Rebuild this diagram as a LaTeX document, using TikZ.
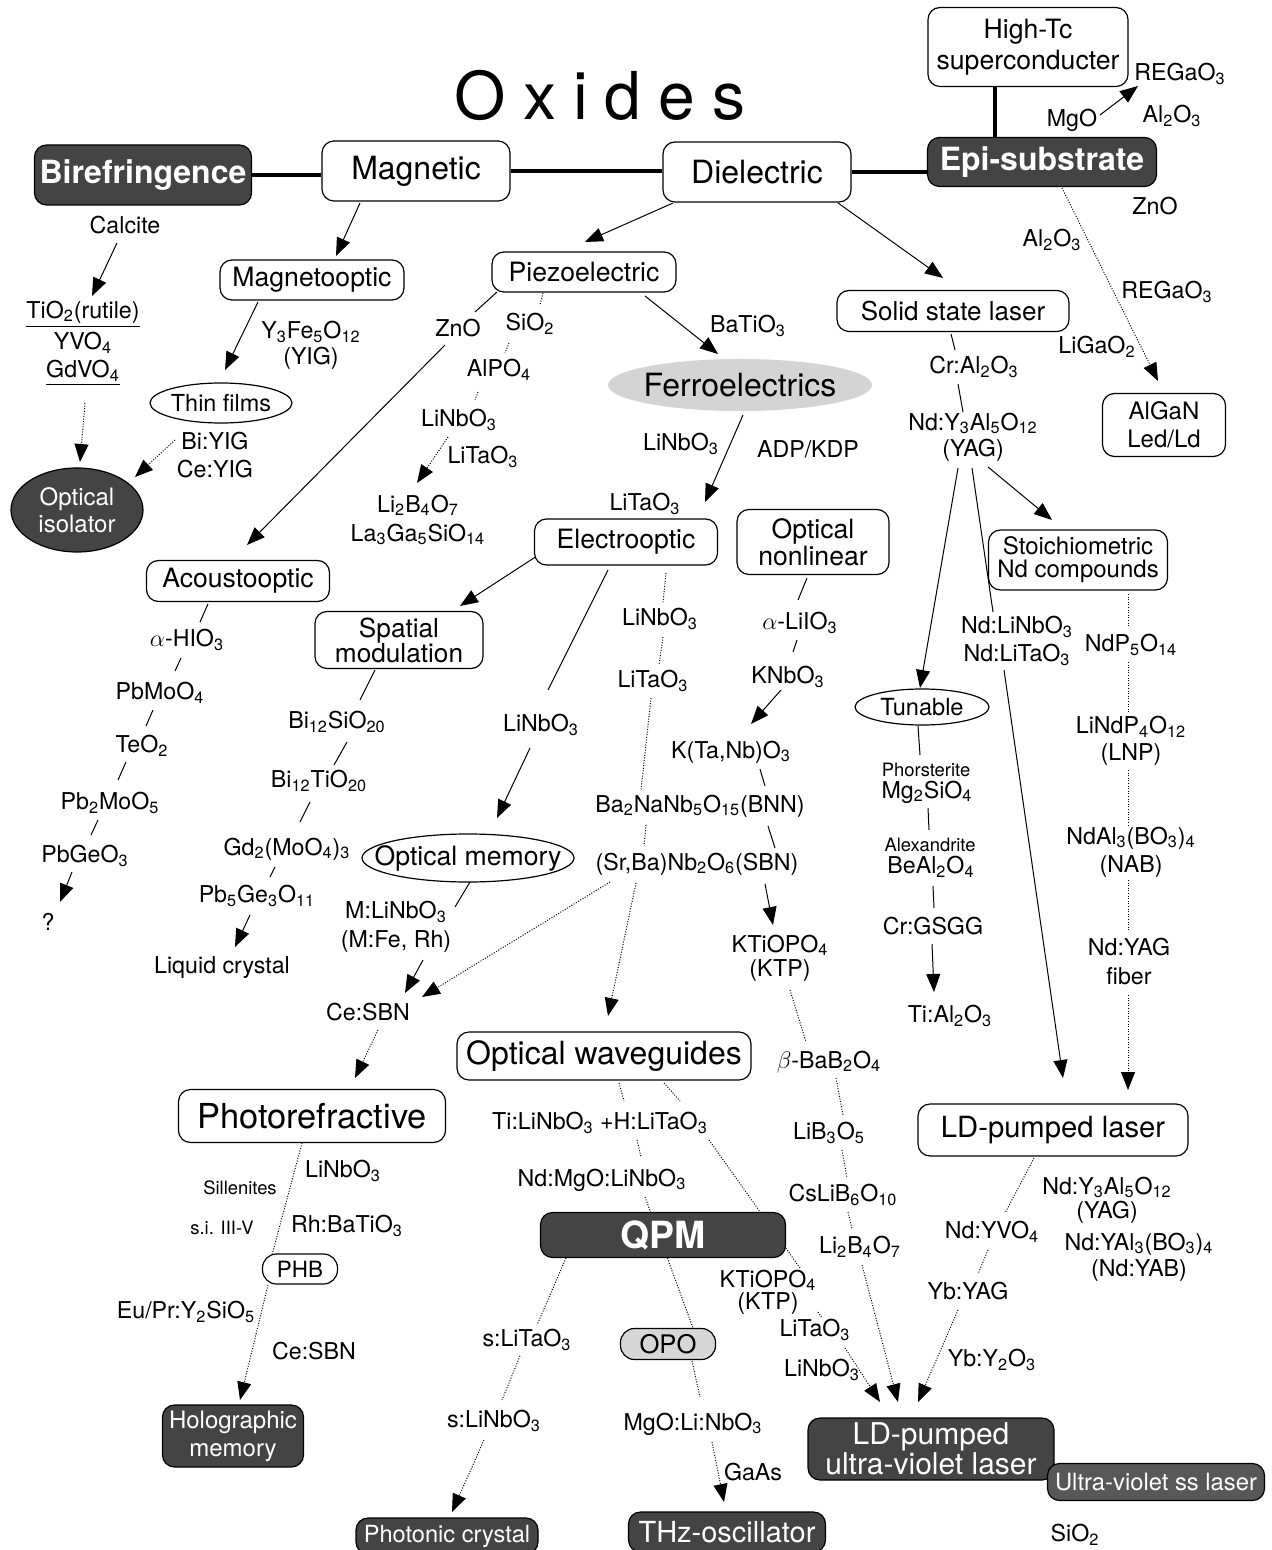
\documentclass[tikz,border=0pt]{standalone}
\usepackage{fontspec}
\setmainfont{TeX Gyre Heros}
\usetikzlibrary{arrows.meta,shapes.geometric,calc}
\pgfdeclarelayer{background}
\pgfsetlayers{background,main}
\newcommand{\dn}[1]{\textsubscript{#1}}
\definecolor{darkfill}{RGB}{68,68,68}
\definecolor{midfill}{RGB}{88,88,88}
\definecolor{ferrofill}{RGB}{212,212,212}
\definecolor{opofill}{RGB}{215,215,215}
\begin{document}
\begin{tikzpicture}[x=0.5pt,y=-0.5pt,
 lab/.style={inner sep=1pt,align=center,font=\fontsize{11.6}{14}\selectfont},
 sml/.style={inner sep=1pt,align=center,font=\fontsize{9.2}{11}\selectfont},
 wbox/.style={draw,line width=0.6pt,rounded corners=6pt,fill=white,align=center,inner sep=0pt},
 dbox/.style={draw=black,line width=0.6pt,rounded corners=6pt,fill=darkfill,text=white,align=center,inner sep=0pt},
 oell/.style={draw,ellipse,line width=0.6pt,fill=white,inner sep=0pt,align=center},
 con/.style={line width=0.5pt},
 dots/.style={line width=0.5pt,dash pattern=on 0.5pt off 0.8pt},
 thickline/.style={line width=1.6pt},
 arr/.style={-{Triangle[length=9pt,width=7pt]}},
]
\useasboundingbox (0,0) rectangle (1272,1550);

% ---------- title ----------
\node[inner sep=0pt] (title) at (600,95) {\fontsize{33}{36}\selectfont O\hspace{8.5pt}x\hspace{8.5pt}i\hspace{8.5pt}d\hspace{8.5pt}e\hspace{8.5pt}s};

% ---------- top row ----------
\node[dbox,minimum width=108.5pt,minimum height=30pt,font=\bfseries\fontsize{16}{18}\selectfont] (bire) at (143,175) {Birefringence};
\node[wbox,minimum width=94pt,minimum height=30pt,font=\fontsize{16}{18}\selectfont] (magn) at (416,171) {Magnetic};
\node[wbox,minimum width=94pt,minimum height=30pt,font=\fontsize{16}{18}\selectfont] (diel) at (757,172) {Dielectric};
\node[dbox,minimum width=114.5pt,minimum height=24.5pt,font=\bfseries\fontsize{16}{18}\selectfont] (epi) at (1042,162) {Epi-substrate};
\node[wbox,minimum width=100pt,minimum height=39.5pt,font=\fontsize{13.3}{15.5}\selectfont] (hitc) at (1028,47) {High-Tc\\superconducter};

% ---------- epi-substrate labels ----------
\node[lab] (rega1) at (1180,74) {REGaO\dn{3}};
\node[lab] (alo1) at (1172,116) {Al\dn{2}O\dn{3}};
\node[lab] (mgo) at (1072,120) {MgO};
\node[lab] (zno2) at (1155,206) {ZnO};
\node[lab] (alo2) at (1052,240) {Al\dn{2}O\dn{3}};
\node[lab] (rega2) at (1167,292) {REGaO\dn{3}};
\node[lab] (ligao) at (1097,347) {LiGaO\dn{2}};
\node[wbox,minimum width=61.5pt,minimum height=31.5pt,font=\fontsize{12}{14}\selectfont] (algan) at (1164,425) {AlGaN\\Led/Ld};

% ---------- birefringence branch ----------
\node[lab] (calc) at (125,225) {Calcite};
\node[lab] (tio) at (83,314) {\underline{TiO\dn{2}(rutile)}};
\node[lab] (yvo) at (83,343) {YVO\dn{4}};
\node[lab] (gdvo) at (83,373) {\underline{GdVO\dn{4}}};
\node[dbox,ellipse,minimum width=66pt,minimum height=42pt,font=\fontsize{12}{13.5}\selectfont] (isol) at (77,510) {Optical\\isolator};

% ---------- magnetic branch ----------
\node[wbox,minimum width=92pt,minimum height=20pt,font=\fontsize{13.3}{15}\selectfont] (magop) at (312,280) {Magnetooptic};
\node[lab] (yig1) at (311,332) {Y\dn{3}Fe\dn{5}O\dn{12}};
\node[lab] (yig2) at (311,358) {(YIG)};
\node[oell,minimum width=71pt,minimum height=20pt,inner xsep=-1pt,font=\fontsize{11.7}{13}\selectfont] (thin) at (221,403) {Thin films};
\node[lab] (biyig) at (215,455) {Bi:YIG\\Ce:YIG};

% ---------- piezoelectric ----------
\node[wbox,minimum width=92pt,minimum height=20pt,font=\fontsize{13.3}{15}\selectfont] (piezo) at (584,272) {Piezoelectric};
\node[lab] (zno) at (458,328) {ZnO};
\node[lab] (sio) at (530,324) {SiO\dn{2}};
\node[lab] (alpo) at (499,370) {AlPO\dn{4}};
\node[lab] (pzln) at (459,420) {LiNbO\dn{3}};
\node[lab] (pzlt) at (483,457) {LiTaO\dn{3}};
\node[lab,font=\fontsize{11.6}{14.5}\selectfont] (lbo) at (418,520) {Li\dn{2}B\dn{4}O\dn{7}\\La\dn{3}Ga\dn{5}SiO\dn{14}};
\node[lab] (bato) at (748,326) {BaTiO\dn{3}};

% ---------- ferroelectrics ----------
\node[ellipse,fill=ferrofill,minimum width=132pt,minimum height=26pt,inner xsep=-2pt,inner ysep=0pt,font=\fontsize{16}{18}\selectfont] (ferro) at (740,385) {Ferroelectrics};
\node[lab] (feln) at (681,444) {LiNbO\dn{3}};
\node[lab] (adp) at (808,449) {ADP/KDP};
\node[lab] (felt) at (645,504) {LiTaO\dn{3}};
\node[wbox,minimum width=91.5pt,minimum height=23pt,font=\fontsize{13.3}{15}\selectfont] (electro) at (626,542) {Electrooptic};
\node[wbox,minimum width=76pt,minimum height=32.5pt,font=\fontsize{13.3}{12.5}\selectfont] (nonlin) at (813,542) {Optical\\nonlinear};

% ---------- acoustooptic ----------
\node[wbox,minimum width=91.5pt,minimum height=20.5pt,font=\fontsize{13.3}{15}\selectfont] (acous) at (238,581) {Acoustooptic};
\node[lab] (ahio) at (187,640) {$\alpha$-HIO\dn{3}};
\node[lab] (pbmo) at (160,693) {PbMoO\dn{4}};
\node[lab] (teo) at (142,746) {TeO\dn{2}};
\node[lab] (pbmoo) at (110,803) {Pb\dn{2}MoO\dn{5}};
\node[lab] (pbge) at (85,856) {PbGeO\dn{3}};
\node[lab] (qm) at (48,922) {?};

% ---------- spatial modulation ----------
\node[wbox,minimum width=84pt,minimum height=28.5pt,font=\fontsize{13.1}{12.5}\selectfont] (spatial) at (399,640) {Spatial\\modulation};
\node[lab] (bisio) at (337,722) {Bi\dn{12}SiO\dn{20}};
\node[lab] (biti) at (319,781) {Bi\dn{12}TiO\dn{20}};
\node[lab] (gd) at (287,849) {Gd\dn{2}(MoO\dn{4})\dn{3}};
\node[lab] (pbge5) at (257,896) {Pb\dn{5}Ge\dn{3}O\dn{11}};
\node[lab] (lc) at (222,968) {Liquid crystal};

% ---------- electrooptic branch ----------
\node[lab] (eoln) at (541,725) {LiNbO\dn{3}};
\node[oell,minimum width=106pt,minimum height=24pt,inner xsep=-9.5pt,font=\fontsize{13.3}{15}\selectfont] (optmem) at (468,858) {Optical memory};
\node[lab,font=\fontsize{11.6}{14.5}\selectfont] (mln) at (396,927) {M:LiNbO\dn{3}\\(M:Fe, Rh)};
\node[lab] (cesbn) at (368,1012) {Ce:SBN};
\node[lab] (eoln2) at (660,619) {LiNbO\dn{3}};
\node[lab] (eolt) at (653,681) {LiTaO\dn{3}};
\node[lab] (bnn) at (700,806) {Ba\dn{2}NaNb\dn{5}O\dn{15}(BNN)};
\node[lab] (sbn) at (697,864) {(Sr,Ba)Nb\dn{2}O\dn{6}(SBN)};

% ---------- optical nonlinear ----------
\node[lab] (liio) at (800,623) {$\alpha$-LiIO\dn{3}};
\node[lab] (knbo) at (788,677) {KNbO\dn{3}};
\node[lab] (ktano) at (731,752) {K(Ta,Nb)O\dn{3}};
\node[lab,font=\fontsize{11.6}{12}\selectfont] (ktp) at (780,958) {KTiOPO\dn{4}\\(KTP)};
\node[lab] (bbo) at (829,1062) {$\beta$-BaB\dn{2}O\dn{4}};
\node[lab] (lib) at (829,1133) {LiB\dn{3}O\dn{5}};
\node[lab] (cslib) at (843,1195) {CsLiB\dn{6}O\dn{10}};
\node[lab] (libo) at (860,1247) {Li\dn{2}B\dn{4}O\dn{7}};

% ---------- optical waveguides / QPM ----------
\node[wbox,minimum width=147pt,minimum height=24pt,font=\fontsize{16}{18}\selectfont] (wave) at (604,1056) {Optical waveguides};
\node[lab] (tih) at (600,1123) {Ti:LiNbO\dn{3} +H:LiTaO\dn{3}};
\node[lab] (ndmgo) at (602,1180) {Nd:MgO:LiNbO\dn{3}};
\node[dbox,minimum width=122.5pt,minimum height=22.5pt,font=\bfseries\fontsize{18.7}{20}\selectfont] (qpm) at (663,1235) {QPM};
\node[lab,font=\fontsize{11.6}{11}\selectfont] (ktpb) at (768,1292) {KTiOPO\dn{4}\\(KTP)};
\node[lab] (ltc) at (815,1330) {LiTaO\dn{3}};
\node[lab] (lnc) at (822,1370) {LiNbO\dn{3}};
\node[wbox,fill=opofill,minimum width=47.5pt,minimum height=15.5pt,rounded corners=7pt,font=\fontsize{12.8}{14}\selectfont] (opo) at (668,1344) {OPO};
\node[lab] (mgoli) at (693,1424) {MgO:Li:NbO\dn{3}};
\node[lab] (gaas) at (753,1472) {GaAs};
\node[dbox,minimum width=98.5pt,minimum height=20pt,font=\fontsize{14.5}{16}\selectfont] (thz) at (727,1532) {THz-oscillator};
\node[lab] (slt) at (527,1340) {s:LiTaO\dn{3}};
\node[lab] (sln) at (494,1421) {s:LiNbO\dn{3}};
\node[dbox,minimum width=91pt,minimum height=18pt,font=\fontsize{11.8}{13}\selectfont] (phot) at (447,1536) {Photonic crystal};

% ---------- photorefractive ----------
\node[wbox,minimum width=133.5pt,minimum height=26.5pt,font=\fontsize{17.2}{19}\selectfont] (photoref) at (312,1116) {Photorefractive};
\node[lab] (prln) at (343,1171) {LiNbO\dn{3}};
\node[sml] (sill) at (240,1188) {Sillenites};
\node[sml] (si35) at (222,1228) {s.i. III-V};
\node[lab] (rhbt) at (347,1226) {Rh:BaTiO\dn{3}};
\node[wbox,minimum width=37.5pt,minimum height=15pt,rounded corners=7pt,font=\fontsize{11.2}{13}\selectfont] (phb) at (300,1269) {PHB};
\node[lab] (eupr) at (186,1312) {Eu/Pr:Y\dn{2}SiO\dn{5}};
\node[lab] (prce) at (314,1351) {Ce:SBN};
\node[dbox,minimum width=70.5pt,minimum height=31pt,font=\fontsize{12}{14}\selectfont] (holo) at (233,1436) {Holographic\\memory};

% ---------- solid state laser ----------
\node[wbox,minimum width=116pt,minimum height=20.5pt,font=\fontsize{13}{15}\selectfont] (ssl) at (953,311) {Solid state laser};
\node[lab] (cral) at (974,367) {Cr:Al\dn{2}O\dn{3}};
\node[lab,font=\fontsize{11.6}{13}\selectfont] (yag) at (973,437) {Nd:Y\dn{3}Al\dn{5}O\dn{12}\\(YAG)};
\node[oell,minimum width=67pt,minimum height=18pt,font=\fontsize{11.8}{13}\selectfont] (tunable) at (922,707) {Tunable};
\node[lab,font=\fontsize{11.6}{14}\selectfont] (ndln) at (1017,641) {Nd:LiNbO\dn{3}\\Nd:LiTaO\dn{3}};
\node[wbox,minimum width=89.5pt,minimum height=30pt,font=\fontsize{12}{11.5}\selectfont] (stoich) at (1078,560) {Stoichiometric\\Nd compounds};
\node[lab] (ndp) at (1131,645) {NdP\dn{5}O\dn{14}};
\node[lab,font=\fontsize{11.6}{13.5}\selectfont] (lnp) at (1131,741) {LiNdP\dn{4}O\dn{12}\\(LNP)};
\node[lab,font=\fontsize{11.6}{14}\selectfont] (nab) at (1131,852) {NdAl\dn{3}(BO\dn{3})\dn{4}\\(NAB)};
\node[lab,font=\fontsize{11.6}{14.5}\selectfont] (fiber) at (1129,962) {Nd:YAG\\fiber};
\node[sml] (phor) at (926,770) {Phorsterite};
\node[lab] (mgsio) at (927,792) {Mg\dn{2}SiO\dn{4}};
\node[sml] (alex) at (930,845) {Alexandrite};
\node[lab] (beal) at (931,867) {BeAl\dn{2}O\dn{4}};
\node[lab] (crgsgg) at (933,926) {Cr:GSGG};
\node[lab] (tial) at (950,1016) {Ti:Al\dn{2}O\dn{3}};

% ---------- LD-pumped ----------
\node[wbox,minimum width=135pt,minimum height=26pt,font=\fontsize{14.6}{16}\selectfont] (ldp) at (1053,1130) {LD-pumped laser};
\node[lab] (ndyvo) at (992,1232) {Nd:YVO\dn{4}};
\node[lab] (ybyag) at (968,1291) {Yb:YAG};
\node[lab] (ybyo) at (992,1360) {Yb:Y\dn{2}O\dn{3}};
\node[lab,font=\fontsize{11.6}{12}\selectfont] (ndyag2) at (1107,1200) {Nd:Y\dn{3}Al\dn{5}O\dn{12}\\(YAG)};
\node[lab,font=\fontsize{11.6}{13}\selectfont] (ndyab) at (1139,1257) {Nd:YAl\dn{3}(BO\dn{3})\dn{4}\\(Nd:YAB)};
\node[dbox,minimum width=123pt,minimum height=31pt,font=\fontsize{15}{14}\selectfont] (lduv) at (931,1449) {LD-pumped\\ultra-violet laser};
\node[dbox,fill=midfill,minimum width=108.5pt,minimum height=18.5pt,font=\fontsize{11.9}{13}\selectfont] (uvss) at (1156,1482) {Ultra-violet ss laser};
\node[lab] (sio2b) at (1075,1535) {SiO\dn{2}};

% ================= connectors =================
\begin{pgfonlayer}{background}
\fill[white] (0,0) rectangle (1272,1550);
\draw[thickline] (bire.east) -- (bire.east -| magn.west);
\draw[thickline] (magn.east) -- (magn.east -| diel.west);
\draw[thickline] (diel.east) -- (diel.east -| epi.west);
\draw[thickline] ($(hitc.south)+(-33,0)$) -- ($(epi.north)+(-47,0)$);

\draw[con,arr] ($(mgo)+(28,-5)$) -- ($(rega1)+(-42,12)$);
\draw[con,arr] ($(diel)+(-84,31)$) -- ($(piezo)+(1,-30)$);
\draw[con,arr] ($(diel)+(81,31)$) -- ($(ssl)+(-10,-33)$);
\draw[con,arr] ($(magn)+(-56,32)$) -- ($(magop)+(24,-24)$);
\draw[con,arr] ($(magop)+(-54,22)$) -- ($(thin)+(4,-33)$);
\draw[con,arr] ($(calc)+(-8,18)$) -- ($(tio)+(9,-18)$);
\draw[dots,arr] ($(gdvo)+(2,30)$) -- ($(isol)+(3,-48)$);
\draw[dots,arr] ($(biyig)+(-40,-15)$) -- ($(isol)+(58,-33)$);
\draw[dots,arr] ($(epi)+(20,26)$) -- ($(algan)+(-6,-44)$);

\draw[con] ($(piezo)+(-87,20)$) -- ($(zno)+(17,-16)$);
\draw[con,arr] ($(zno)+(-13,17)$) -- ($(acous)+(9,-36)$);
\draw[dots] ($(piezo)+(-41,21)$) -- ($(sio)+(10,-19)$);
\draw[dots] ($(sio)+(-21,19)$) -- ($(alpo)+(6,-17)$);
\draw[dots] ($(alpo)+(-21,22)$) -- ($(pzln)+(16,-20)$);
\draw[dots,arr] ($(pzln)+(-11,17)$) -- ($(lbo)+(-1,-37)$);
\draw[con,arr] ($(piezo)+(61,24)$) -- ($(ferro)+(-22,-31)$);
\draw[con,arr] ($(ferro)+(3,30)$) -- ($(electro)+(79,-40)$);

\draw[con,arr] ($(electro)+(-89,14)$) -- ($(spatial)+(61,-34)$);
\draw[con] ($(electro)+(-18,28)$) -- ($(eoln)+(7,-35)$);
\draw[con,arr] ($(eoln)+(-11,23)$) -- ($(optmem)+(29,-40)$);
\draw[dots] ($(electro)+(40,31)$) -- ($(eoln2)+(3,-17)$);
\draw[dots] ($(eoln2)+(3,18)$) -- ($(eolt)+(6,-16)$);
\draw[dots] ($(eolt)+(-2,17)$) -- ($(bnn)+(-59,-16)$);
\draw[dots] ($(bnn)+(-54,19)$) -- ($(sbn)+(-53,-18)$);
\draw[dots,arr] ($(sbn)+(-87,18)$) -- ($(cesbn)+(54,-15)$);
\draw[dots,arr] ($(sbn)+(-61,19)$) -- ($(wave)+(4,-40)$);

\draw[con] ($(nonlin)+(-6,36)$) -- ($(liio)+(-2,-23)$);
\draw[con] ($(liio)+(-3,17)$) -- ($(knbo)+(5,-25)$);
\draw[con,arr] ($(knbo)+(-7,13)$) -- ($(ktano)+(20,-28)$);
\draw[con] ($(ktano)+(29,17)$) -- ($(bnn)+(65,-20)$);
\draw[con] ($(bnn)+(68,20)$) -- ($(sbn)+(78,-16)$);
\draw[con,arr] ($(sbn)+(68,20)$) -- ($(ktp)+(-7,-33)$);
\draw[dots] ($(ktp)+(10,32)$) -- ($(bbo)+(-23,-20)$);
\draw[dots] ($(bbo)+(7,16)$) -- ($(lib)+(14,-18)$);
\draw[dots] ($(lib)+(13,17)$) -- ($(cslib)+(4,-17)$);
\draw[dots] ($(cslib)+(5,17)$) -- ($(libo)+(-8,-18)$);
\draw[dots,arr] ($(libo)+(2,18)$) -- ($(lduv)+(-33,-47)$);

\draw[dots] ($(wave)+(15,27)$) -- ($(tih)+(24,-22)$);
\draw[dots] ($(wave)+(60,27)$) -- ($(tih)+(80,-22)$);
\draw[dots] ($(tih)+(37,17)$) -- ($(ndmgo)+(39,-23)$);
\draw[dots] ($(tih)+(109,17)$) -- ($(ktpb)+(32,-24)$);
\draw[dots] ($(ndmgo)+(43,17)$) -- ($(opo)+(25,-16)$);
\draw[dots] ($(opo)+(24,17)$) -- ($(mgoli)+(7,-27)$);
\draw[dots,arr] ($(mgoli)+(19,18)$) -- ($(thz)+(-3,-30)$);
\draw[dots] ($(qpm)+(-97,23)$) -- ($(slt)+(10,-15)$);
\draw[dots] ($(slt)+(-7,16)$) -- ($(sln)+(8,-21)$);
\draw[dots,arr] ($(sln)+(-10,19)$) -- ($(phot)+(5,-24)$);
\draw[dots] ($(ktpb)+(50,20)$) -- ($(ltc)+(7,-12)$);
\draw[dots,arr] ($(ltc)+(30,18)$) -- ($(lduv)+(-51,-47)$);

\draw[dots] ($(ldp)+(-19,28)$) -- ($(ndyvo)+(13,-19)$);
\draw[dots] ($(ndyvo)+(-4,18)$) -- ($(ybyag)+(10,-17)$);
\draw[dots,arr] ($(ybyag)+(-10,19)$) -- ($(lduv)+(-13,-47)$);

\draw[con] ($(ssl)+(-2,23)$) -- ($(cral)+(-19,-17)$);
\draw[con] ($(cral)+(-16,17)$) -- ($(yag)+(-10,-25)$);
\draw[con,arr] ($(yag)+(-15,31)$) -- ($(tunable)+(-2,-19)$);
\draw[con] ($(yag)+(-1,31)$) -- ($(ndln)+(-24,-29)$);
\draw[con,arr] ($(ndln)+(-13,29)$) -- ($(ldp)+(10,-52)$);
\draw[con,arr] ($(yag)+(15,30)$) -- ($(stoich)+(-26,-40)$);
\draw[dots] ($(stoich)+(50,34)$) -- ($(ndp)+(-3,-18)$);
\draw[dots] ($(ndp)+(-3,17)$) -- ($(lnp)+(-3,-29)$);
\draw[dots] ($(lnp)+(-3,29)$) -- ($(nab)+(-3,-27)$);
\draw[dots] ($(nab)+(-3,28)$) -- ($(fiber)+(-1,-32)$);
\draw[dots,arr] ($(fiber)+(-1,33)$) -- ($(ldp)+(75,-40)$);
\draw[con] ($(tunable)+(-4,19)$) -- ($(phor)+(-6,-15)$);
\draw[con] ($(mgsio)+(1,16)$) -- ($(alex)+(-1,-15)$);
\draw[con] ($(beal)+(2,19)$) -- ($(crgsgg)+(1,-18)$);
\draw[con,arr] ($(crgsgg)+(-1,18)$) -- ($(tial)+(-16,-24)$);

\draw[con] ($(acous)+(-30,23)$) -- ($(ahio)+(13,-18)$);
\draw[con] ($(ahio)+(-6,18)$) -- ($(pbmo)+(15,-22)$);
\draw[con] ($(pbmo)+(-7,17)$) -- ($(teo)+(4,-20)$);
\draw[con] ($(teo)+(-16,16)$) -- ($(pbmoo)+(8,-23)$);
\draw[con] ($(pbmoo)+(-12,17)$) -- ($(pbge)+(6,-21)$);
\draw[con,arr] ($(pbge)+(-13,16)$) -- ($(qm)+(12,-20)$);

\draw[con] ($(spatial)+(-24,30)$) -- ($(bisio)+(23,-22)$);
\draw[con] ($(bisio)+(10,20)$) -- ($(biti)+(15,-16)$);
\draw[con] ($(biti)+(-9,21)$) -- ($(gd)+(13,-27)$);
\draw[con] ($(gd)+(-12,18)$) -- ($(pbge5)+(13,-19)$);
\draw[con,arr] ($(pbge5)+(-7,19)$) -- ($(lc)+(13,-21)$);

\draw[con] ($(optmem)+(2,24)$) -- ($(mln)+(59,-20)$);
\draw[con,arr] ($(mln)+(27,33)$) -- ($(cesbn)+(37,-19)$);
\draw[dots,arr] ($(cesbn)+(10,18)$) -- ($(photoref)+(43,-38)$);
\draw[dots] ($(photoref)+(-10,27)$) -- ($(phb)+(-28,-14)$);
\draw[dots,arr] ($(phb)+(-32,16)$) -- ($(holo)+(7,-36)$);
\end{pgfonlayer}
\end{tikzpicture}
\end{document}
